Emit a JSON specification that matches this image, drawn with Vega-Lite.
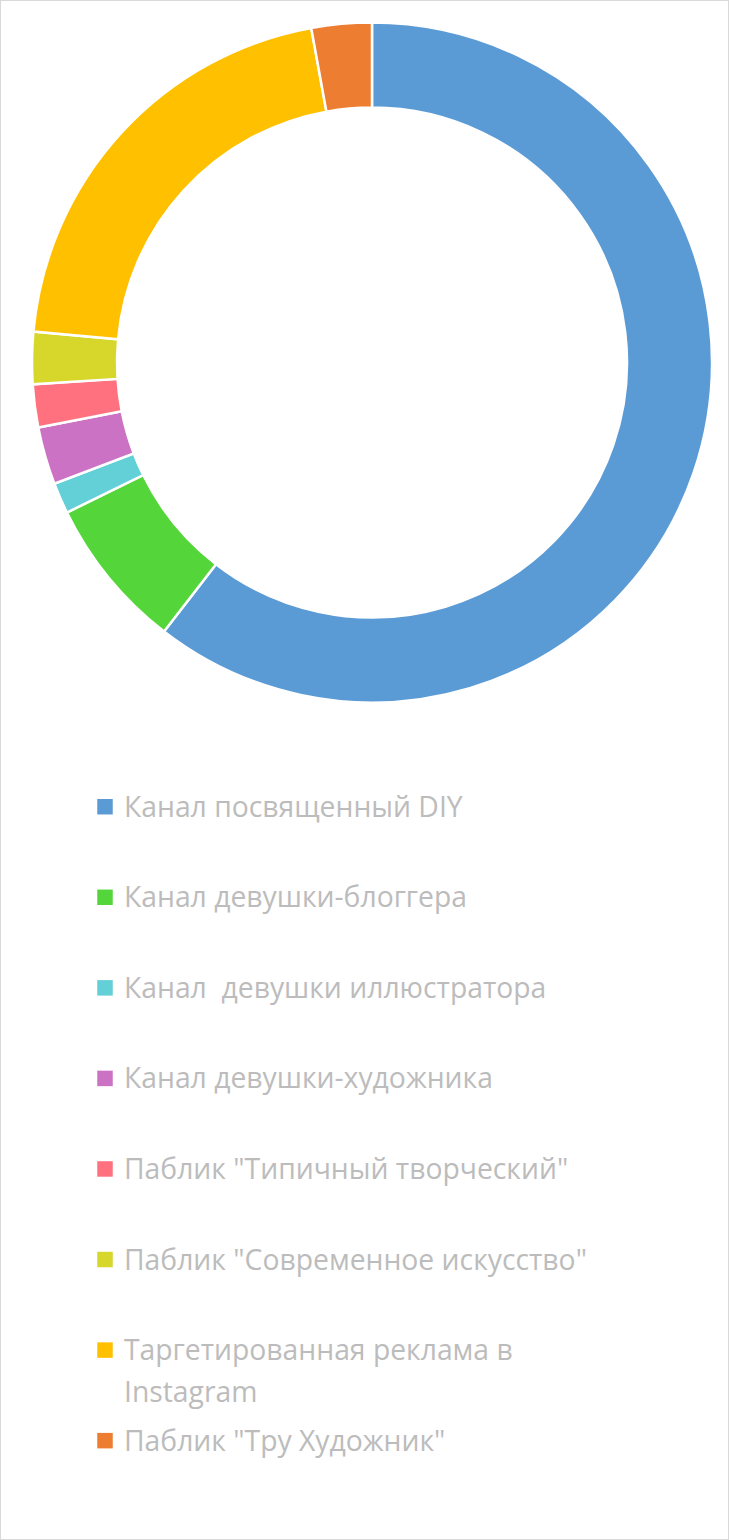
{
  "$schema": "https://vega.github.io/schema/vega-lite/v6.json",
  "autosize": {"type": "fit", "contains": "padding"},
  "width": 729,
  "height": 1540,
  "padding": 0,
  "background": "white",
  "config": {"view": {"stroke": "#D9D9D9", "strokeWidth": 2}},
  "data": {
    "values": [
      {"order": 0, "category": "Канал посвященный DIY", "label": "Канал посвященный DIY", "value": 60.47},
      {"order": 1, "category": "Канал девушки-блоггера", "label": "Канал девушки-блоггера", "value": 7.25},
      {"order": 2, "category": "Канал  девушки иллюстратора", "label": "Канал \u00a0девушки иллюстратора", "value": 1.47},
      {"order": 3, "category": "Канал девушки-художника", "label": "Канал девушки-художника", "value": 2.74},
      {"order": 4, "category": "Паблик \"Типичный творческий\"", "label": "Паблик \"Типичный творческий\"", "value": 2.04},
      {"order": 5, "category": "Паблик \"Современное искусство\"", "label": "Паблик \"Современное искусство\"", "value": 2.47},
      {"order": 6, "category": "Таргетированная реклама в Instagram", "label": "Таргетированная реклама в\nInstagram", "value": 20.69},
      {"order": 7, "category": "Паблик \"Тру Художник\"", "label": "Паблик \"Тру Художник\"", "value": 2.86}
    ]
  },
  "layer": [
    {
      "mark": {"type": "arc", "x": 372, "y": 362.5, "outerRadius": 340, "innerRadius": 255, "stroke": "white", "strokeWidth": 2.5},
      "encoding": {
        "theta": {"field": "value", "type": "quantitative", "stack": true},
        "order": {"field": "order", "type": "quantitative"},
        "color": {
          "field": "category",
          "type": "nominal",
          "legend": null,
          "sort": {"field": "order"},
          "scale": {
            "domain": ["Канал посвященный DIY", "Канал девушки-блоггера", "Канал  девушки иллюстратора", "Канал девушки-художника", "Паблик \"Типичный творческий\"", "Паблик \"Современное искусство\"", "Таргетированная реклама в Instagram", "Паблик \"Тру Художник\""],
            "range": ["#5B9BD5", "#54D63A", "#63CFD7", "#CC72C4", "#FF717F", "#D7D62B", "#FFC000", "#ED7D31"]
          }
        }
      }
    },
    {
      "mark": {"type": "point", "shape": "square", "filled": true, "size": 240, "opacity": 1, "x": 105},
      "encoding": {
        "y": {"field": "order", "type": "quantitative", "axis": null, "scale": {"domain": [-8.908, 8.097], "reverse": true, "nice": false, "zero": false}},
        "color": {"field": "category", "type": "nominal", "legend": null}
      }
    },
    {
      "mark": {"type": "text", "x": 124, "align": "left", "baseline": "alphabetic", "dy": 10, "lineBreak": "\n", "lineHeight": 42, "font": "Open Sans", "fontSize": 28.3, "fill": "#BCBCBC"},
      "encoding": {
        "y": {"field": "order", "type": "quantitative", "axis": null, "scale": {"domain": [-8.908, 8.097], "reverse": true, "nice": false, "zero": false}},
        "text": {"field": "label", "type": "nominal"}
      }
    }
  ]
}
